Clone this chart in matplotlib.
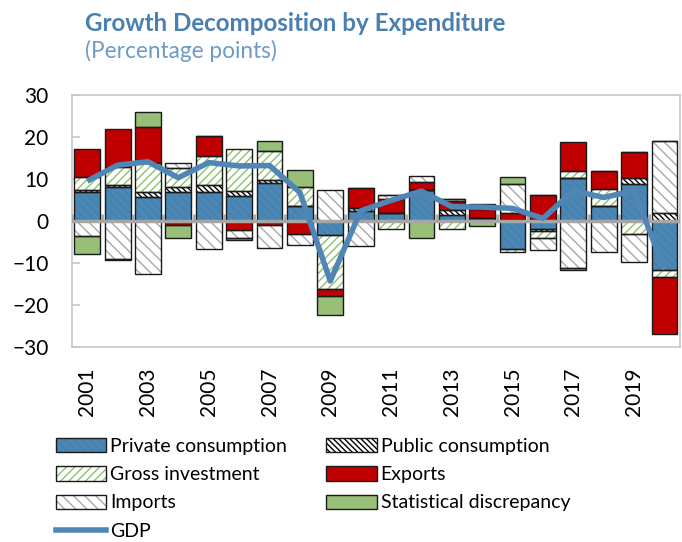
import numpy as np
import matplotlib
matplotlib.use("Agg")
import matplotlib.pyplot as plt
from matplotlib.patches import Patch
from matplotlib.lines import Line2D
from matplotlib.legend_handler import HandlerTuple

plt.rcParams['font.family'] = ['Lato', 'DejaVu Sans']
plt.rcParams['hatch.linewidth'] = 1.0

years = list(range(2001, 2021))
private = [7.0, 8.2, 5.7, 7.0, 6.9, 6.0, 9.1, 3.6, -3.4, 2.4, 2.0, 7.4, 1.5, 0.8, -6.7, -2.0, 10.3, 3.6, 8.7, -11.7]
public = [0.3, 0.3, 1.2, 1.1, 1.7, 1.2, 0.6, 0.0, 0.0, 0.8, 0.0, 0.0, 1.2, 0.0, 0.3, -0.4, 0.0, 0.0, 1.6, 2.0]
gross = [3.2, 4.4, 7.0, 4.4, 6.9, 9.9, 6.9, 4.5, -12.9, 0.0, -2.0, 0.0, -2.0, 0.0, -0.6, -1.6, 1.7, 4.0, -3.2, -1.6]
exports = [6.6, 9.0, 8.5, -1.0, 4.8, -2.2, -1.0, -3.0, -1.6, 4.6, 3.2, 1.9, 2.1, 2.0, 1.6, 6.3, 6.7, 4.3, 6.2, -13.5]
imports = [-3.6, -9.1, -12.7, 1.4, -6.7, -1.9, -5.4, -2.7, 7.4, -6.0, 1.0, 1.4, 0.5, 1.2, 6.9, -2.8, -11.1, -7.3, -6.6, 17.0]
stat_disc = [-4.2, -0.3, 3.6, -3.0, 0.0, -0.5, 2.5, 4.0, -4.4, 0.0, 0.0, -4.0, 0.0, -1.3, 1.6, 0.0, -0.6, 0.0, 0.0, 0.0]
gdp = [9.5, 13.3, 14.1, 10.3, 13.9, 13.1, 13.2, 6.8, -14.3, 2.4, 4.9, 7.1, 3.4, 3.3, 3.0, 0.6, 7.2, 5.6, 7.2, -11.5]

series = [
    ("Private consumption", private, dict(fc='#4a87b5', hc='#4680ad', hatch='\\\\\\\\')),
    ("Public consumption", public, dict(fc='white', hc='black', hatch='\\\\\\\\\\\\')),
    ("Gross investment", gross, dict(fc='white', hc='#8cc06a', hatch='////')),
    ("Exports", exports, dict(fc='#c00000', hc='#c00000', hatch=None)),
    ("Imports", imports, dict(fc='white', hc='#a8a8a8', hatch='\\\\\\')),
    ("Statistical discrepancy", stat_disc, dict(fc='#98bf78', hc='#98bf78', hatch=None)),
]

fig = plt.figure(figsize=(6.82, 5.42), dpi=100)
ax = fig.add_axes([0.1056, 0.3598, 0.891, 0.465])

x = np.arange(len(years))
width = 0.85
pos_bottom = np.zeros(len(years))
neg_bottom = np.zeros(len(years))
handles = []
for name, vals, st in series:
    v = np.array(vals)
    bottom = np.where(v >= 0, pos_bottom, neg_bottom)
    ax.bar(x, v, width, bottom=bottom, color=st['fc'], edgecolor=st['hc'],
           hatch=st['hatch'], linewidth=0, zorder=2)
    ax.bar(x, v, width, bottom=bottom, fill=False, edgecolor='#1a1a1a',
           linewidth=1.0, zorder=3)
    pos_bottom += np.where(v >= 0, v, 0)
    neg_bottom += np.where(v < 0, v, 0)
    handles.append((Patch(facecolor=st['fc'], edgecolor=st['hc'], hatch=st['hatch'], linewidth=0),
                    Patch(fill=False, edgecolor='#1a1a1a', linewidth=1.0)))

# zero line with category tick marks
ax.axhline(0, color='#a6a6a6', lw=2.5, zorder=4)
ax.vlines(np.arange(len(years) + 1) - 0.5, 0, 1.6, color='#a6a6a6', lw=2, zorder=4)

ax.plot(x, gdp, color='#4f86b5', lw=4, zorder=5, solid_capstyle='butt')

ax.set_xlim(-0.5, len(years) - 0.5)
ax.set_ylim(-30, 30)
ax.set_yticks(range(-30, 31, 10))
ax.set_xticks(x[::2])
ax.set_xticklabels([str(y) for y in years[::2]], rotation=90)
ax.tick_params(axis='both', labelsize=15, colors='black')
ax.tick_params(axis='y', direction='in', length=6, width=1.2, color='#c8c8c8', pad=17)
ax.tick_params(axis='x', length=0, pad=14.5)
for s in ax.spines.values():
    s.set_color('#c8c8c8')
    s.set_linewidth(1.2)

fig.text(0.125, 0.956, "Growth Decomposition by Expenditure", fontsize=17.4,
         fontweight='bold', color='#4a7fb0', va='center')
fig.text(0.125, 0.906, "(Percentage points)", fontsize=16.3, color='#6d9bc8', va='center')

labels = [s[0] for s in series]
gdp_handle = Line2D([], [], color='#4f86b5', lw=4)
order = [0, 2, 4, 1, 3, 5]
leg_handles = [handles[i] for i in order[:3]] + [gdp_handle] + [handles[i] for i in order[3:]]
leg_labels = [labels[i] for i in order[:3]] + ["GDP"] + [labels[i] for i in order[3:]]
leg = fig.legend(leg_handles, leg_labels, ncol=2, loc='upper left',
                 bbox_to_anchor=(0.082, 0.192), bbox_transform=fig.transFigure,
                 frameon=False, fontsize=14, handlelength=2.6, handleheight=0.75,
                 handletextpad=0.2, labelspacing=0.58, columnspacing=2.0,
                 borderpad=0, borderaxespad=0,
                 handler_map={tuple: HandlerTuple(ndivide=1, pad=0)})

fig.savefig("out.png", dpi=100)
